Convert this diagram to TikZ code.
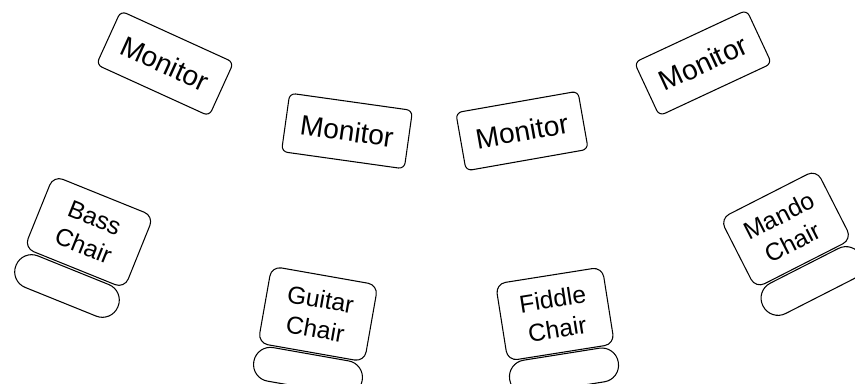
\documentclass[tikz,border=0pt]{standalone}
\usepackage{fontspec}
\setmainfont{Liberation Sans}
\begin{document}
\begin{tikzpicture}[x=0.02cm,y=-0.02cm,
  monitor/.style={draw,line width=0.6pt,rounded corners=3.4pt,minimum width=2.48cm,minimum height=1.18cm,inner sep=0pt,font=\fontsize{16}{19}\selectfont,fill=white},
  chairback/.style={draw,line width=0.6pt,rounded corners=5.7pt,minimum width=2.16cm,minimum height=1.56cm,inner sep=0pt,align=center,font=\fontsize{14}{17}\selectfont,fill=white},
  cushion/.style={draw,line width=0.6pt,rounded corners=9.5pt,minimum width=2.2cm,minimum height=0.68cm,inner sep=0pt,fill=white}]
\useasboundingbox (0,0) rectangle (855,384);
\clip (0,0) rectangle (855,384);
% monitors
\node[monitor,rotate=-24.5] (mon1) at (165,63.5) {Monitor};
\node[monitor,rotate=-8] (mon2) at (347,131) {Monitor};
\node[monitor,rotate=10] (mon3) at (522,131) {Monitor};
\node[monitor,rotate=25] (mon4) at (703,63) {Monitor};
% chairs: cushions first, backs on top
\node[cushion,rotate=-22] (basscush) at (67,286) {};
\node[chairback,rotate=-22] (bass) at (89,232) {Bass\\Chair};
\node[cushion,rotate=-10] (guitarcush) at (308,371) {};
\node[chairback,rotate=-10] (guitar) at (318,314) {Guitar\\Chair};
\node[cushion,rotate=9] (fiddlecush) at (564,371) {};
\node[chairback,rotate=9] (fiddle) at (555,314) {Fiddle\\Chair};
\node[cushion,rotate=27] (mandocush) at (812,281) {};
\node[chairback,rotate=27] (mando) at (786,229) {Mando\\Chair};
\end{tikzpicture}
\end{document}
